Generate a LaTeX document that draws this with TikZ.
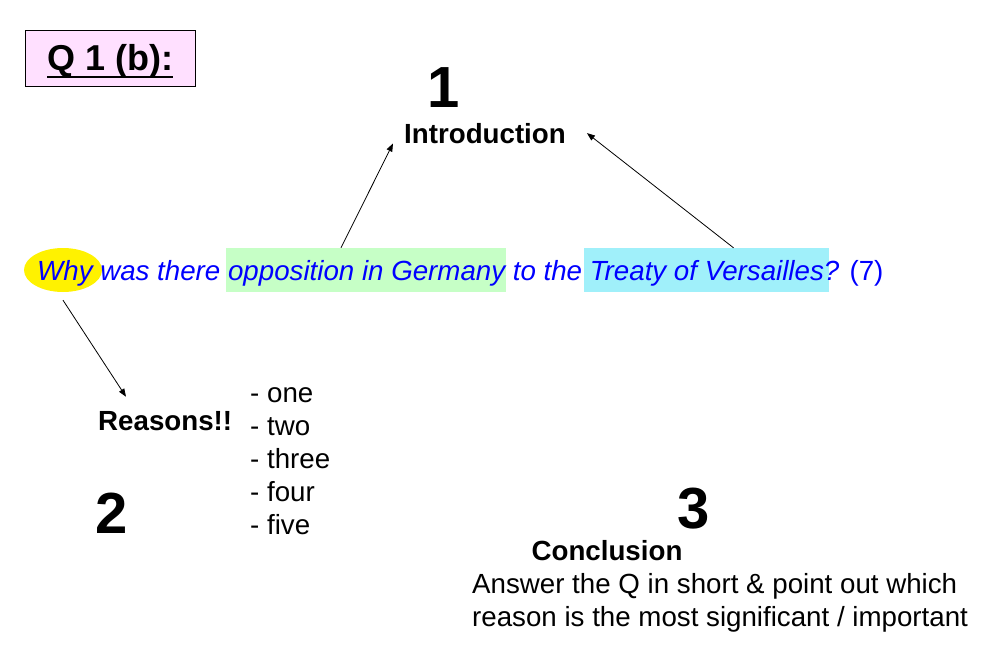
\documentclass[tikz,border=0pt]{standalone}
\usepackage{fontspec}
\setmainfont{Liberation Sans}
\usetikzlibrary{shapes.geometric,arrows.meta}
\definecolor{titlepink}{RGB}{255,224,255}
\definecolor{hlgreen}{RGB}{198,255,198}
\definecolor{hlcyan}{RGB}{160,240,250}
\definecolor{qblue}{RGB}{0,0,255}
\def\bigfig{\fontsize{58}{62}\selectfont\bfseries}
\def\midtxt{\fontsize{27.7}{33}\selectfont}
\tikzset{
	txt/.style={inner sep=0pt, anchor=base west, font=\midtxt},
	headtxt/.style={txt, font=\midtxt\bfseries},
	numtxt/.style={inner sep=0pt, anchor=base, font=\bigfig},
	hlbox/.style={rectangle, inner sep=0pt, minimum height=44pt},
	arr/.style={line width=0.8pt, -{Triangle[length=8pt,width=6pt]}}
}

\begin{document}
\begin{tikzpicture}[x=1pt,y=-1pt]
		%%%%% START %%%%%
		\useasboundingbox (0,0) rectangle (987,651);
		
		\node[draw=black, line width=1pt, fill=titlepink, minimum width=170pt, minimum height=56pt, inner sep=0pt] (tbox) at (110,58) {};
		\node[txt, font=\fontsize{36}{40}\selectfont\bfseries] (ttl) at (47,70) {Q 1 (b):};
		\draw[line width=2.7pt] ([yshift=-7pt]ttl.base west) -- ([yshift=-7pt]ttl.base east);
		
		\node[numtxt] (one) at (444,107) {1};
		\node[headtxt] (intro) at (404,143) {Introduction};
		
		\node[ellipse, fill=yellow, minimum width=78pt, minimum height=44pt, inner sep=0pt] (why) at (63,270) {};
		\node[hlbox, fill=hlgreen, minimum width=280pt] (germany) at (366,270) {};
		\node[hlbox, fill=hlcyan, minimum width=245pt] (treaty) at (706.5,270) {};
		\node[txt, text=qblue] (question) at (37,280) {\itshape Why was there opposition in Germany to the Treaty of Versailles?\upshape{} (7)};
		
		\draw[arr] ([xshift=-25pt]germany.north) -- ([xshift=-11pt]intro.south west);
		\draw[arr] ([xshift=27pt]treaty.north) -- ([xshift=21pt]intro.east);
		
		\node[headtxt] (reasons) at (98,430) {Reasons!!};
		\draw[arr] ([yshift=-8pt]why.south) -- ([xshift=28pt,yshift=14pt]reasons.north west);
		\node[numtxt] (two) at (112,533) {2};
		
		\foreach \w [count=\i] in {one,two,three,four,five}
			\node[txt] (item\i) at (250,{402+33*(\i-1)}) {- \w};
		
		\node[numtxt] (three) at (694,528) {3};
		\node[headtxt, anchor=base] (concl) at (607,560) {Conclusion};
		\node[txt] (ans1) at (472,593) {Answer the Q in short \& point out which};
		\node[txt] (ans2) at (472,626) {reason is the most significant / important};
		
		%%%%% END %%%%%
	\end{tikzpicture}
\end{document}
